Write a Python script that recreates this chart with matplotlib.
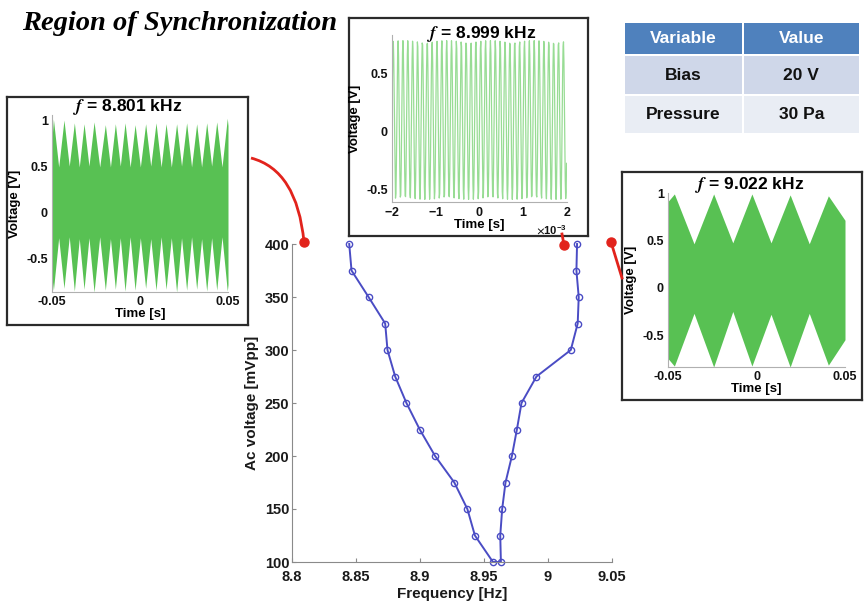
import numpy as np
import matplotlib
matplotlib.use('Agg')
import matplotlib.pyplot as plt
from matplotlib.patches import Rectangle, PathPatch
from matplotlib.path import Path
from matplotlib.ticker import ScalarFormatter

plt.rcParams['font.family'] = ['Liberation Sans', 'DejaVu Sans']
plt.rcParams['font.weight'] = 'bold'
plt.rcParams['axes.labelweight'] = 'bold'
plt.rcParams['mathtext.fontset'] = 'stix'

W, H = 864, 607

# ---- main curve: synchronization region (AC drive vs frequency) ----
ac_volt = [400, 375, 350, 325, 300, 275, 250, 225, 200, 175, 150, 125, 100]
f_lower = [8.8447, 8.8465, 8.8598, 8.8728, 8.8746, 8.8806, 8.8894, 8.8998,
           8.9118, 8.9268, 8.9370, 8.9429, 8.9570]
f_upper = [9.0227, 9.0222, 9.0240, 9.0232, 9.0178, 8.9910, 8.9793, 8.9757,
           8.9718, 8.9668, 8.9642, 8.9627, 8.9632]

# ---- left inset (f = 8.801 kHz): envelope of the beating signal ----
left_t = [-0.0500, -0.0492, -0.0462, -0.0432, -0.0402, -0.0373, -0.0345, -0.0318,
          -0.0290, -0.0261, -0.0229, -0.0197, -0.0168, -0.0140, -0.0112, -0.0085,
          -0.0056, -0.0028, 0.0002, 0.0032, 0.0061, 0.0091, 0.0120, 0.0148,
          0.0178, 0.0208, 0.0236, 0.0265, 0.0293, 0.0322, 0.0350, 0.0379,
          0.0407, 0.0436, 0.0466, 0.0496, 0.0500]
left_hi = [0.80, 1.02, 0.50, 1.01, 0.51, 0.98, 0.50, 0.97, 0.51, 0.99, 0.50, 0.96,
           0.50, 0.97, 0.51, 0.98, 0.50, 0.96, 0.50, 0.97, 0.51, 0.98, 0.50, 0.97,
           0.50, 0.97, 0.51, 0.98, 0.50, 0.97, 0.50, 0.98, 0.51, 0.99, 0.50, 1.03, 0.95]
left_lo = [-0.70, -0.84, -0.27, -0.82, -0.26, -0.85, -0.28, -0.83, -0.27, -0.86,
           -0.26, -0.84, -0.28, -0.83, -0.27, -0.85, -0.26, -0.84, -0.27, -0.82,
           -0.28, -0.84, -0.26, -0.83, -0.27, -0.86, -0.27, -0.84, -0.26, -0.83,
           -0.28, -0.85, -0.27, -0.84, -0.26, -0.85, -0.78]

# ---- top inset (f = 8.999 kHz): locked signal ----
f_mid = 8.999e3
mid_amp, mid_offset = 0.69, 0.10

# ---- right inset (f = 9.022 kHz): envelope ----
right_t = [-0.0500, -0.0464, -0.0353, -0.0242, -0.0134, -0.0026, 0.0082, 0.0190,
           0.0298, 0.0406, 0.0500]
right_hi = [0.92, 1.00, 0.47, 1.00, 0.48, 1.00, 0.48, 0.99, 0.47, 0.98, 0.72]
right_lo = [-0.75, -0.83, -0.27, -0.84, -0.25, -0.83, -0.28, -0.84, -0.27, -0.82, -0.55]

table_head = ['Variable', 'Value']
table_rows = [['Bias', '20 V'], ['Pressure', '30 Pa']]

GREEN = '#58c153'
BLUE = '#4a4cc4'
RED = '#e2231c'


def box(x0, y0, x1, y1):
    return [x0 / W, 1 - y1 / H, (x1 - x0) / W, (y1 - y0) / H]


def frame(x0, y0, x1, y1):
    fr = fig.add_axes(box(x0, y0, x1, y1))
    fr.set_xticks([])
    fr.set_yticks([])
    for s in fr.spines.values():
        s.set_color('#2b2b2b')
        s.set_linewidth(1.6)
    return fr


def style_inset(ax):
    for s in ['top', 'right']:
        ax.spines[s].set_visible(False)
    for s in ['left', 'bottom']:
        ax.spines[s].set_color('#b0b0b0')
        ax.spines[s].set_linewidth(0.8)
    ax.tick_params(direction='in', length=0, labelsize=9, pad=3, colors='#111')
    ax.set_xlabel('Time [s]', fontsize=9.5, labelpad=0)
    ax.set_ylabel('Voltage [V]', fontsize=9.5, labelpad=4)


fig = plt.figure(figsize=(W / 100, H / 100), dpi=100)

# ---------------- main axes ----------------
ax = fig.add_axes(box(292, 244, 612, 562))
ax.plot(f_lower + f_upper[::-1], ac_volt + ac_volt[::-1], '-o', color=BLUE,
        lw=1.4, ms=4.5, mfc='none', mec=BLUE, mew=1.0, clip_on=False)
ax.set_xlim(8.8, 9.05)
ax.set_ylim(100, 400)
ax.set_xticks([8.8, 8.85, 8.9, 8.95, 9.0, 9.05])
ax.set_xticklabels(['8.8', '8.85', '8.9', '8.95', '9', '9.05'])
ax.set_yticks([100, 150, 200, 250, 300, 350, 400])
for s in ['top', 'right']:
    ax.spines[s].set_visible(False)
for s in ['left', 'bottom']:
    ax.spines[s].set_color('#8a8a8a')
ax.tick_params(direction='in', length=3, labelsize=10.5, colors='#8a8a8a',
               labelcolor='#1a1a1a', pad=2)
ax.tick_params(axis='x', pad=6)
ax.set_xlabel('Frequency [Hz]', fontsize=11, color='#1a1a1a', labelpad=2)
ax.set_ylabel('Ac voltage [mVpp]', fontsize=11, color='#1a1a1a', labelpad=4)

# ---------------- left inset ----------------
frame(7, 97, 248, 325)
a1 = fig.add_axes(box(52, 115, 228, 292))
a1.fill_between(left_t, left_lo, left_hi, color=GREEN, lw=0)
a1.set_xlim(-0.05, 0.05)
a1.set_ylim(-0.86, 1.065)
a1.set_xticks([-0.05, 0, 0.05])
a1.set_xticklabels(['-0.05', '0', '0.05'])
a1.set_yticks([-0.5, 0, 0.5, 1])
a1.set_yticklabels(['-0.5', '0', '0.5', '1'])
style_inset(a1)
fig.text(128 / W, 1 - 107 / H, r'$f$ = 8.801 kHz', ha='center', va='center',
         fontsize=12.5)

# ---------------- top inset ----------------
frame(349, 18, 588, 236)
a2 = fig.add_axes(box(392, 35, 567, 202))
t_mid = np.arange(-2e-3, 2e-3, 1 / 100e3)
a2.plot(t_mid, mid_offset + mid_amp * np.sin(2 * np.pi * f_mid * t_mid),
        color='#7fd47a', lw=0.9, alpha=0.8)
a2.set_xlim(-2e-3, 2e-3)
a2.set_ylim(-0.613, 0.839)
a2.set_xticks([-2e-3, -1e-3, 0, 1e-3, 2e-3])
a2.set_yticks([-0.5, 0, 0.5])
a2.set_yticklabels(['-0.5', '0', '0.5'])
fmt = ScalarFormatter(useMathText=True)
fmt.set_powerlimits((-2, 2))
a2.xaxis.set_major_formatter(fmt)
style_inset(a2)
a2.xaxis.get_offset_text().set_fontsize(8)
fig.text(482 / W, 1 - 34 / H, r'$f$ = 8.999 kHz', ha='center', va='center',
         fontsize=12.5)

# ---------------- right inset ----------------
frame(622, 172, 862, 400)
a3 = fig.add_axes(box(668, 193, 845, 367))
a3.fill_between(right_t, right_lo, right_hi, color=GREEN, lw=0)
a3.set_xlim(-0.05, 0.05)
a3.set_ylim(-0.84, 1.01)
a3.set_xticks([-0.05, 0, 0.05])
a3.set_xticklabels(['-0.05', '0', '0.05'])
a3.set_yticks([-0.5, 0, 0.5, 1])
a3.set_yticklabels(['-0.5', '0', '0.5', '1'])
style_inset(a3)
fig.text(750 / W, 1 - 185 / H, r'$f$ = 9.022 kHz', ha='center', va='center',
         fontsize=12.5)

# ---------------- overlay: title, connectors, table ----------------
ov = fig.add_axes([0, 0, 1, 1])
ov.set_xlim(0, W)
ov.set_ylim(H, 0)
ov.axis('off')
ov.patch.set_alpha(0)

ov.text(22, 23, 'Region of Synchronization', family='Liberation Serif',
        style='italic', weight='bold', fontsize=20.5, va='center', ha='left')

arc = Path([(251, 158), (297, 170), (304, 242)],
           [Path.MOVETO, Path.CURVE3, Path.CURVE3])
ov.add_patch(PathPatch(arc, fc='none', ec=RED, lw=2))
ov.plot([562, 564], [234, 245], color=RED, lw=2)
ov.plot([611, 622], [242, 278], color=RED, lw=2)
ov.plot([304, 564, 611], [242, 245, 242], 'o', color=RED, ms=6.5)

cols = [(625, 741.5), (743.5, 859)]
rows = [(23, 54, '#4f81bd', 'white'), (56, 94, '#cfd7e9', '#111'),
        (96, 133, '#e9edf4', '#111')]
cells = [table_head] + table_rows
for (y0, y1, bg, fg), texts in zip(rows, cells):
    for (x0, x1), txt in zip(cols, texts):
        ov.add_patch(Rectangle((x0, y0), x1 - x0, y1 - y0, fc=bg, ec='none'))
        ov.text((x0 + x1) / 2, (y0 + y1) / 2, txt, ha='center', va='center',
                fontsize=12.5, color=fg)

fig.savefig('out.png', dpi=100)
